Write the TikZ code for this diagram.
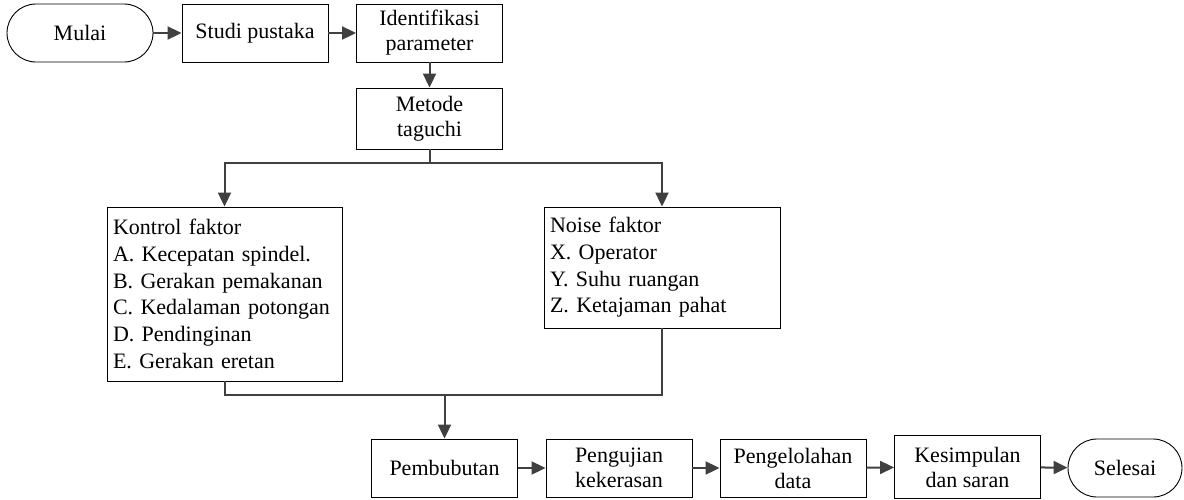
\documentclass[tikz,border=0pt]{standalone}
\usepackage{fontspec}
\setmainfont{Liberation Serif}
\usepackage{tikz}
\usetikzlibrary{shapes,arrows,positioning,calc,arrows.meta}
\usepackage{xcolor}
\definecolor{linecolor}{RGB}{64, 64, 64}

\begin{document}
\begin{tikzpicture}[
    x=1pt, y=-1pt,
    box/.style={rectangle, draw, line width=0.9pt, minimum width=146pt, minimum height=58pt, align=center, inner sep=2pt, font=\fontsize{22}{25}\selectfont},
    term/.style={box, rounded corners=29pt},
    listbox/.style={rectangle, draw, line width=0.9pt, align=left, inner sep=6pt, font=\fontsize{22}{26.7}\selectfont},
    edge/.style={-{Triangle[length=14pt,width=13pt]}, draw=linecolor, line width=2pt},
    link/.style={draw=linecolor, line width=2pt}
]
    \useasboundingbox (0,0) rectangle (1184,499);

    % Top row
    \node[term] (mulai) at (80, 33) {Mulai};
    \node[box] (studi) at (255, 33) {Studi pustaka};
    \node[box] (ident) at (429.5, 33) {Identifikasi\\parameter};
    \node[box, minimum height=61pt] (metode) at (429.5, 118.5) {Metode\\taguchi};

    % Factor boxes
    \node[listbox, text width=223pt, minimum height=174pt] (kontrol) at (224.5, 294) {
        Kontrol faktor\\
        A. Kecepatan spindel.\\
        B. Gerakan pemakanan\\
        C. Kedalaman potongan\\
        D. Pendinginan\\
        E. Gerakan eretan
    };
    \node[listbox, text width=224pt, minimum height=121pt] (noise) at (662, 267.5) {
        Noise faktor\\
        X. Operator\\
        Y. Suhu ruangan\\
        Z. Ketajaman pahat
    };

    % Bottom row
    \node[box] (bubut) at (444.5, 468) {Pembubutan};
    \node[box] (uji) at (619, 468) {Pengujian\\kekerasan};
    \node[box] (olah) at (793, 468) {Pengelolahan\\data};
    \node[box, minimum height=63pt] (simpul) at (967.5, 467) {Kesimpulan\\dan saran};
    \node[term, minimum width=114pt] (selesai) at (1125, 468) {Selesai};

    % Split and join points
    \coordinate (split) at (429.5, 163);
    \coordinate (join) at (444.5, 395);

    % === EDGES ===
    \draw[edge] (mulai) -- (studi);
    \draw[edge] (studi) -- (ident);
    \draw[edge] (ident) -- (metode);
    \draw[link] (metode) -- (split);
    \draw[edge] (split) -| (kontrol.north);
    \draw[edge] (split) -| (noise.north);
    \draw[link] (kontrol.south) |- (join);
    \draw[link] (noise.south) |- (join);
    \draw[edge] (join) -- (bubut);
    \draw[edge] (bubut) -- (uji);
    \draw[edge] (uji) -- (olah);
    \draw[edge] (olah) -- (simpul);
    \draw[edge] (simpul) -- (selesai);
\end{tikzpicture}
\end{document}
